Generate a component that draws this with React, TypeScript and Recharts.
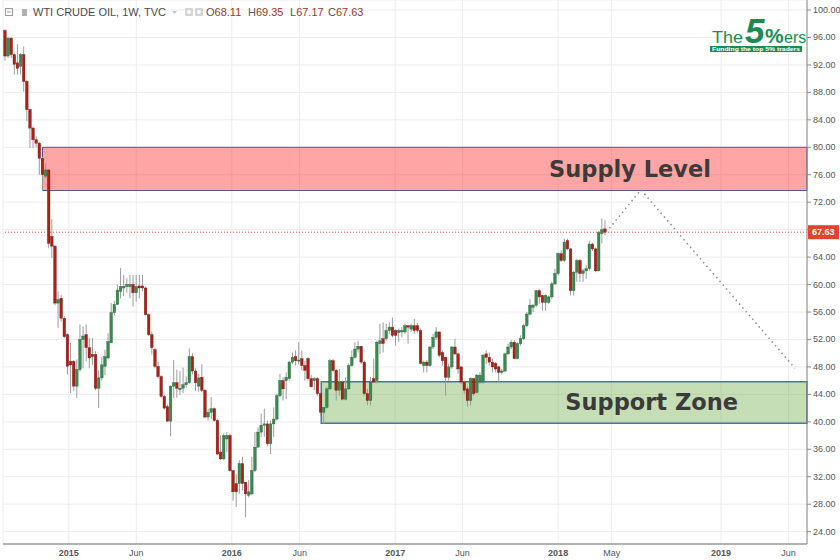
import {
  ComposedChart,
  Bar,
  Line,
  XAxis,
  YAxis,
  CartesianGrid,
  ReferenceArea,
  ReferenceLine,
} from "recharts";

// weekly candles, first bar = week of 2014-08-11
const startDate = Date.UTC(2014, 7, 11);
const WEEK = 7 * 86400000;

const opens = [
  97.0, 93.3, 95.9, 93.5, 92.3, 91.8, 93.5, 89.6, 85.5, 82.8, 81.1, 80.6, 78.4, 75.8, 76.7, 67.0,
  65.6, 57.3, 58.0, 55.1, 52.7, 48.8, 48.8, 45.2, 47.6, 52.0, 52.7, 50.8, 49.8, 49.8, 44.9, 46.4,
  48.1, 49.3, 51.5, 55.9, 57.1, 59.0, 59.5, 59.7, 59.7, 60.0, 58.8, 59.8, 59.8, 59.5, 55.6, 52.7,
  50.5, 48.1, 46.6, 43.7, 42.2, 40.1, 45.2, 45.7, 44.7, 44.9, 45.4, 45.7, 49.5, 47.4, 45.2, 46.5,
  44.6, 40.7, 41.4, 41.9, 40.2, 35.6, 34.6, 37.5, 38.0, 32.9, 31.0, 31.0, 33.9, 31.2, 29.3, 29.5,
  32.9, 36.3, 38.5, 39.5, 39.7, 36.8, 39.7, 40.4, 43.8, 46.0, 46.0, 46.3, 48.7, 49.5, 48.9, 49.2,
  48.2, 49.2, 46.3, 46.0, 46.3, 44.1, 41.4, 42.1, 44.8, 48.9, 47.5, 44.6, 45.8, 43.3, 44.8, 48.2,
  49.4, 50.6, 51.0, 48.7, 44.1, 43.1, 46.3, 46.0, 51.4, 52.1, 52.1, 53.3, 53.8, 53.3, 53.0, 53.1,
  53.1, 54.0, 53.5, 54.0, 54.0, 53.3, 48.2, 48.7, 48.2, 50.9, 52.3, 53.1, 50.1, 49.4, 46.5, 48.0,
  50.9, 49.9, 48.0, 45.8, 44.8, 43.1, 46.3, 44.3, 45.8, 45.8, 49.9, 49.4, 48.7, 48.5, 48.0, 47.2,
  47.4, 49.9, 50.9, 51.6, 49.2, 51.4, 52.1, 54.0, 55.7, 56.7, 57.0, 59.1, 58.4, 57.4, 57.4, 58.2,
  60.1, 61.6, 64.5, 63.5, 66.4, 65.2, 59.1, 61.8, 63.5, 61.6, 62.0, 62.3, 65.9, 65.2, 62.0, 67.4,
  68.11,
];
const highs = [
  97.2, 96.1, 96.1, 93.7, 95.0, 93.7, 94.7, 89.8, 85.6, 83.0, 81.6, 80.8, 78.6, 77.7, 76.8, 69.5,
  65.8, 59.0, 58.5, 55.4, 52.9, 51.5, 49.0, 49.1, 54.2, 53.9, 54.2, 52.2, 52.2, 50.3, 47.5, 49.5,
  50.5, 52.9, 57.3, 57.6, 60.0, 62.4, 61.4, 60.9, 61.4, 61.4, 61.4, 61.4, 61.4, 59.7, 55.8, 53.2,
  50.8, 48.8, 46.8, 43.9, 42.5, 45.3, 49.0, 47.6, 47.4, 47.9, 46.6, 50.7, 50.0, 47.8, 47.0, 48.4,
  44.8, 41.9, 43.6, 42.1, 40.4, 38.0, 38.3, 38.5, 38.3, 32.9, 32.4, 34.4, 34.9, 31.2, 31.5, 34.9,
  38.5, 39.2, 41.2, 41.9, 40.2, 40.2, 42.1, 44.1, 47.0, 46.5, 47.2, 48.9, 50.1, 50.4, 51.6, 50.4,
  48.9, 49.4, 46.8, 46.5, 46.5, 44.3, 42.1, 45.1, 49.2, 49.2, 47.7, 47.7, 46.0, 46.5, 48.5, 50.4,
  51.6, 51.8, 51.1, 48.9, 44.8, 46.5, 49.2, 51.8, 54.3, 54.5, 54.3, 54.5, 55.2, 53.5, 53.6, 53.8,
  54.3, 54.1, 54.3, 55.0, 54.4, 53.6, 48.9, 49.0, 51.0, 52.8, 53.8, 53.1, 50.4, 49.5, 48.5, 51.1,
  52.1, 50.1, 48.1, 46.0, 45.1, 46.5, 46.4, 47.0, 47.2, 49.9, 50.4, 50.1, 49.2, 48.7, 48.2, 47.7,
  50.1, 51.4, 51.9, 51.9, 51.6, 52.6, 54.3, 56.0, 57.9, 57.2, 59.2, 59.4, 58.5, 58.6, 58.4, 60.4,
  62.3, 64.7, 65.0, 66.7, 66.7, 65.3, 62.0, 63.7, 63.7, 62.3, 62.8, 66.4, 66.1, 65.4, 67.8, 69.6,
  69.35,
];
const lows = [
  92.6, 93.0, 93.0, 90.6, 90.6, 90.6, 88.1, 83.8, 79.9, 79.9, 80.0, 76.0, 73.6, 75.5, 65.3, 63.9,
  57.0, 53.7, 54.6, 52.2, 46.9, 44.2, 44.5, 43.5, 47.3, 47.8, 48.8, 47.8, 48.3, 44.6, 42.0, 46.0,
  46.8, 49.1, 51.5, 55.5, 57.0, 58.0, 58.3, 58.8, 58.0, 56.8, 57.5, 58.0, 59.0, 55.5, 52.5, 49.8,
  47.8, 46.3, 43.5, 41.8, 40.0, 37.9, 43.5, 43.5, 43.9, 44.2, 45.0, 45.6, 46.9, 44.5, 44.4, 44.3,
  40.5, 40.2, 40.4, 40.0, 35.2, 34.4, 34.4, 35.6, 32.7, 28.5, 27.6, 29.5, 30.0, 26.1, 29.0, 29.3,
  32.7, 36.3, 37.8, 37.8, 36.5, 35.3, 37.8, 40.2, 43.6, 43.1, 43.3, 46.0, 48.4, 48.2, 48.4, 47.5,
  46.0, 46.0, 45.0, 44.6, 43.8, 40.9, 39.7, 41.9, 44.6, 47.2, 43.1, 43.8, 43.1, 43.1, 44.6, 48.0,
  49.2, 50.1, 48.4, 43.8, 42.4, 42.4, 45.6, 45.6, 49.9, 50.1, 51.8, 52.8, 52.3, 51.1, 51.6, 52.3,
  52.8, 51.4, 53.1, 52.8, 53.0, 48.4, 47.2, 47.2, 48.0, 50.6, 51.9, 49.4, 48.2, 43.8, 46.0, 47.7,
  49.7, 47.0, 45.5, 44.1, 42.2, 42.4, 43.8, 44.1, 45.5, 45.5, 48.4, 48.2, 47.2, 47.2, 45.8, 46.9,
  47.2, 49.7, 50.6, 49.1, 49.1, 51.1, 51.9, 53.8, 55.5, 56.0, 56.7, 57.2, 56.2, 56.2, 57.2, 57.9,
  59.9, 61.3, 63.3, 63.3, 65.0, 58.4, 58.4, 60.4, 60.4, 60.4, 60.8, 62.0, 64.9, 61.8, 61.9, 66.0,
  67.17,
];
const closes = [
  93.3, 95.9, 93.5, 92.1, 91.5, 93.5, 89.6, 85.5, 82.8, 81.1, 80.6, 78.4, 76.0, 76.7, 66.0, 65.6,
  57.3, 57.8, 55.1, 52.4, 48.1, 48.3, 45.2, 47.6, 52.0, 52.5, 50.8, 49.3, 49.5, 44.9, 46.4, 48.3,
  49.5, 51.7, 55.9, 57.1, 59.2, 59.7, 59.7, 60.0, 60.0, 58.8, 59.7, 59.5, 59.5, 55.6, 52.7, 50.8,
  48.1, 46.6, 43.7, 42.0, 40.1, 45.2, 45.7, 44.9, 44.9, 45.4, 45.7, 49.5, 47.4, 45.7, 46.4, 44.6,
  40.7, 41.4, 41.9, 40.2, 35.3, 34.6, 38.0, 38.0, 32.9, 29.8, 29.8, 33.9, 31.0, 29.5, 29.8, 32.9,
  36.3, 38.5, 39.5, 39.7, 36.8, 39.7, 40.4, 43.8, 46.0, 44.8, 46.5, 48.7, 49.4, 48.9, 49.0, 48.2,
  47.5, 46.3, 45.1, 46.3, 44.1, 41.4, 42.1, 44.8, 48.9, 47.5, 44.6, 45.8, 43.3, 44.8, 48.2, 49.4,
  50.6, 51.0, 48.7, 44.1, 43.1, 45.8, 45.8, 51.6, 51.8, 51.4, 53.3, 53.8, 52.6, 52.6, 53.3, 53.3,
  54.0, 53.8, 54.0, 53.3, 53.3, 48.5, 48.7, 48.2, 50.9, 52.3, 53.1, 49.7, 48.9, 46.5, 48.0, 50.9,
  49.9, 47.7, 45.8, 44.6, 43.1, 46.3, 44.1, 46.8, 46.8, 49.7, 49.4, 48.7, 48.0, 47.7, 47.2, 47.4,
  49.9, 50.9, 51.6, 49.2, 51.4, 52.1, 54.0, 55.7, 57.0, 57.0, 59.1, 58.2, 57.4, 58.4, 58.2, 60.1,
  61.6, 64.5, 63.5, 66.2, 65.2, 59.1, 61.8, 63.5, 61.6, 62.0, 62.3, 65.9, 65.2, 62.0, 67.6, 68.0,
  67.63,
];

const tickDates = [
  "2015-01-01", "2015-06-01", "2016-01-01", "2016-06-01", "2017-01-01",
  "2017-06-01", "2018-01-01", "2018-05-01", "2019-01-01", "2019-06-01",
];
const tickLabels = ["2015", "Jun", "2016", "Jun", "2017", "Jun", "2018", "May", "2019", "Jun"];
const priceTicks = [24, 28, 32, 36, 40, 44, 48, 52, 56, 60, 64, 68, 72, 76, 80, 84, 88, 92, 96, 100];

const supplyZone = [73.7, 80.0];
const supplyStartWeek = 12;
const supportZone = [39.8, 45.85];
const supportStartWeek = 101.2;

const projectionWeeks = [193.4, 203.5, 252.8];
const projectionPrices = [68.2, 73.8, 47.8];

const lastPrice = 67.63;

const xDomain = [-0.64, 256.64];
const yDomain = [22.2, 101.46];

const toWeek = (d: string) => (Date.parse(d) - startDate) / WEEK;
const tickWeeks = tickDates.map(toWeek);

const candles = opens.map((o, i) => ({
  w: i,
  range: [lows[i], highs[i]],
  o,
  h: highs[i],
  l: lows[i],
  c: closes[i],
}));

const projection = projectionWeeks.map((w, i) => ({ w, p: projectionPrices[i] }));

const Candle = (props: any) => {
  const { x, y, width, height, payload } = props;
  if (!payload || x == null) return null;
  const { o, h, l, c } = payload;
  const top = Math.min(y, y + height);
  const bot = Math.max(y, y + height);
  const span = h - l || 1;
  const py = (p: number) => top + ((h - p) / span) * (bot - top);
  const cx = x + width / 2;
  const up = c >= o;
  const bTop = py(Math.max(o, c));
  const bBot = py(Math.min(o, c));
  return (
    <g>
      <line x1={cx} x2={cx} y1={top} y2={bot} stroke="#9b9b9b" strokeWidth={1} />
      <rect
        x={cx - 1.3}
        y={bTop}
        width={2.6}
        height={Math.max(1, bBot - bTop)}
        fill={up ? "#3a8a50" : "#a8221b"}
        stroke={up ? "#25643a" : "#7e1711"}
        strokeWidth={0.4}
      />
    </g>
  );
};

const DateTick = (props: any) => {
  const { x, y, payload } = props;
  let idx = 0;
  tickWeeks.forEach((t, i) => {
    if (Math.abs(t - payload.value) < Math.abs(tickWeeks[idx] - payload.value)) idx = i;
  });
  const label = tickLabels[idx];
  const isYear = /^\d{4}$/.test(label);
  return (
    <text x={x} y={y} dy={4} textAnchor="middle" fontSize={9} fill="#555" fontWeight={isYear ? 700 : 400}>
      {label}
    </text>
  );
};

// price labels; the one under the last-price tag is covered, as on the original
const PriceTick = (props: any) => {
  const { x, y, payload } = props;
  if (Math.abs(payload.value - lastPrice) < 1.5) return null;
  return (
    <text x={x} y={y} dy={3} textAnchor="start" fontSize={9} fill="#555">
      {payload.value.toFixed(2)}
    </text>
  );
};

const PriceTag = (props: any) => {
  const vb = props.viewBox || {};
  const left = vb.x + vb.width + 1;
  return (
    <g>
      <rect x={left} y={vb.y - 7} width={31} height={14} fill="#e0442f" />
      <text x={left + 4} y={vb.y + 3} fontSize={9} fontWeight={700} fill="#fff">
        {lastPrice.toFixed(2)}
      </text>
    </g>
  );
};

const Header = () => (
  <g fontFamily="Liberation Sans, Arial, sans-serif" fontSize={11}>
    <rect x={5.5} y={8.5} width={7} height={7} fill="none" stroke="#9a9a9a" />
    <line x1={7} x2={11} y1={12} y2={12} stroke="#9a9a9a" />
    <rect x={22} y={9} width={5} height={7} fill="#b0b0b0" />
    <text x={33} y={16} fill="#4a4a4a">WTI CRUDE OIL, 1W, TVC</text>
    <path d="M172 11 L177 11 L174.5 14 Z" fill="#c4c4c4" />
    <rect x={185} y={8} width={8} height={8} rx={1} fill="#d4d4d4" />
    <circle cx={189} cy={12} r={2} fill="#fff" />
    <rect x={195} y={8} width={8} height={8} rx={1} fill="#d4d4d4" />
    <circle cx={199} cy={12} r={2} fill="#fff" />
    <text x={206} y={16} fill="#555">
      O<tspan fill="#9a3727">68.11</tspan>
      <tspan x={248}>H</tspan>
      <tspan fill="#9a3727">69.35</tspan>
      <tspan x={290}>L</tspan>
      <tspan fill="#9a3727">67.17</tspan>
      <tspan x={328}>C</tspan>
      <tspan fill="#9a3727">67.63</tspan>
    </text>
  </g>
);

// logo and its tagline kept in one text element, drawn over the green band
const Logo = () => (
  <g fontFamily="Liberation Sans, Arial, sans-serif" fill="#1b8c50">
    <rect x={710} y={46} width={92} height={6} />
    <text y={43}>
      <tspan x={712} fontSize={17} textLength={31} lengthAdjust="spacingAndGlyphs">The</tspan>
      <tspan x={745} fontSize={35} fontWeight={700} fontStyle="italic">5</tspan>
      <tspan x={765} fontSize={21} fontWeight={700}>%</tspan>
      <tspan x={784} fontSize={16}>ers</tspan>
      <tspan x={712} y={51.3} fontSize={6} fontWeight={700} fill="#fff" textLength={88} lengthAdjust="spacingAndGlyphs">
        Funding the top 5% traders
      </tspan>
    </text>
  </g>
);

export default function App() {
  return (
    <div
      style={{
        position: "absolute",
        left: 0,
        top: 0,
        width: 840,
        height: 560,
        background: "#fff",
        fontFamily: "Liberation Sans, Arial, sans-serif",
      }}
    >
      <ComposedChart width={840} height={560} data={candles} margin={{ top: 0, right: 0, bottom: 0, left: 3 }}>
        <CartesianGrid stroke="#ececec" />
        <XAxis
          dataKey="w"
          type="number"
          domain={xDomain}
          ticks={tickWeeks}
          interval={0}
          allowDataOverflow
          tick={<DateTick />}
          tickLine={false}
          axisLine={{ stroke: "#6e6e6e" }}
          height={16}
        />
        <YAxis
          orientation="right"
          type="number"
          domain={yDomain}
          ticks={priceTicks}
          interval={0}
          allowDataOverflow
          width={33}
          tick={<PriceTick />}
          tickLine={{ stroke: "#888" }}
          tickSize={4}
          tickMargin={2}
          axisLine={{ stroke: "#888" }}
        />
        <Bar dataKey="range" barSize={3} shape={<Candle />} isAnimationActive={false} />
        <ReferenceArea
          x1={supplyStartWeek}
          x2={xDomain[1]}
          y1={supplyZone[0]}
          y2={supplyZone[1]}
          fill="#ff1f1f"
          fillOpacity={0.4}
          stroke="#55549c"
          strokeWidth={1}
          label={{
            value: "Supply Level",
            position: "insideRight",
            offset: 96,
            fontSize: 22.5,
            fontWeight: 700,
            fontFamily: "DejaVu Sans",
            fill: "#3b3b3b",
          }}
        />
        <ReferenceArea
          x1={supportStartWeek}
          x2={xDomain[1]}
          y1={supportZone[0]}
          y2={supportZone[1]}
          fill="#70ad47"
          fillOpacity={0.4}
          stroke="#4a72b0"
          strokeWidth={1.5}
          label={{
            value: "Support Zone",
            position: "insideRight",
            offset: 69,
            fontSize: 22.5,
            fontWeight: 700,
            fontFamily: "DejaVu Sans",
            fill: "#3b3b3b",
          }}
        />
        <ReferenceLine y={lastPrice} stroke="#e04b3a" strokeDasharray="1 2" label={<PriceTag />} />
        <Line
          data={projection}
          dataKey="p"
          stroke="#8a8a8a"
          strokeWidth={1.5}
          strokeDasharray="1.5 3.5"
          dot={false}
          isAnimationActive={false}
        />
      </ComposedChart>
      <svg
        width={840}
        height={560}
        style={{ position: "absolute", left: 0, top: 0, pointerEvents: "none" }}
      >
        <Header />
        <Logo />
      </svg>
    </div>
  );
}
